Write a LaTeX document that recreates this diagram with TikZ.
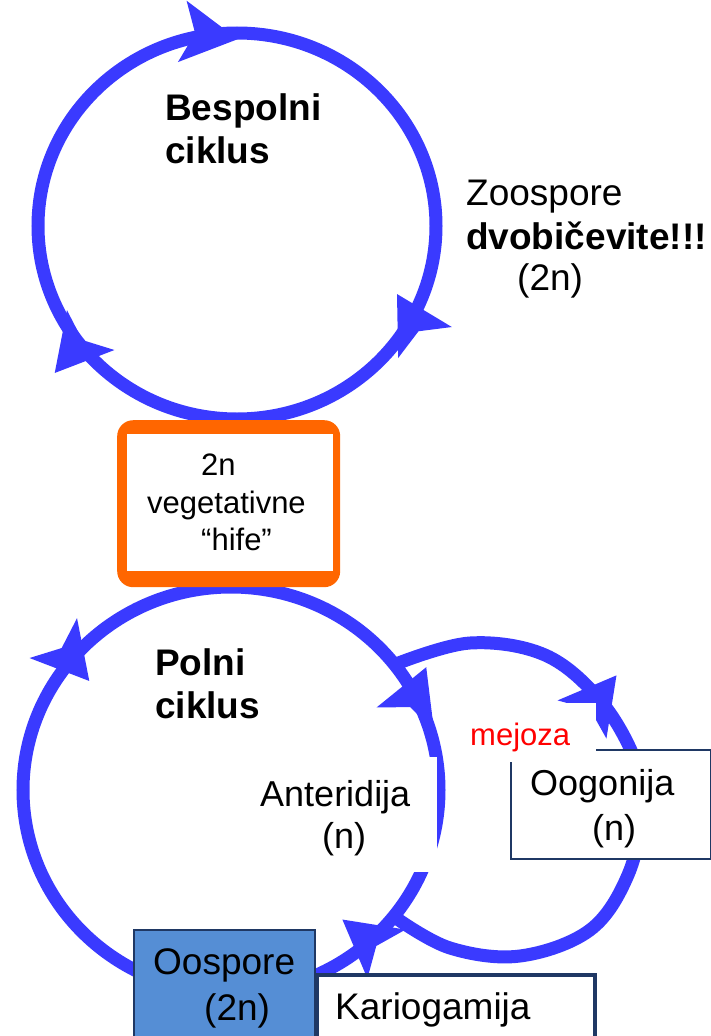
\documentclass[tikz,border=0pt]{standalone}
\usepackage{fontspec}
\setmainfont{Liberation Sans}
\definecolor{cyc}{RGB}{58,58,255}
\definecolor{org}{RGB}{255,102,0}
\definecolor{navy}{RGB}{31,56,100}
\definecolor{oosp}{RGB}{85,142,213}
\definecolor{mred}{RGB}{255,0,0}
\newcommand\arrhd[3]{\fill[cyc, shift={(#1,#2)}, rotate=#3] (30,0) -- (-26,31) -- (-13,0) -- (-26,-31) -- cycle;}
\begin{document}
\begin{tikzpicture}[x=1pt,y=-1pt,
  ring/.style={draw=cyc, line width=13pt},
  lbl/.style={inner sep=0pt, anchor=base west, font=\fontsize{37}{40}\selectfont},
  blbl/.style={inner sep=0pt, anchor=base west, font=\fontsize{37}{40}\selectfont\bfseries},
  slbl/.style={inner sep=0pt, anchor=base west, font=\fontsize{31}{34}\selectfont},
  mlbl/.style={inner sep=0pt, anchor=base west, font=\fontsize{36}{40}\selectfont},
  boxw/.style={inner sep=0pt, anchor=north west, fill=white},
]
\useasboundingbox (0,0) rectangle (711,1036);
% rings
\draw[ring] (237,226) ellipse [x radius=199, y radius=193];
\draw[ring] (231,790) ellipse [x radius=208, y radius=203];
\draw[ring] plot[smooth, tension=0.6] coordinates {(396,664) (470,643) (545,655) (600,700) (635,760) (642,810) (628,875) (590,930) (520,956) (450,948) (396,918)};
% arrowheads
\arrhd{208}{35}{-8}
\arrhd{412}{320}{120}
\arrhd{74}{350}{230}
\arrhd{70}{658}{-50}
\arrhd{415}{695}{68}
\arrhd{366}{938}{142}
\arrhd{598}{699}{52}
% orange box
\node[boxw, fill=org, rounded corners=16pt, minimum width=223pt, minimum height=167pt] (hframe) at (117,420) {};
\node[boxw, minimum width=206pt, minimum height=137pt] (hbox) at (127,434) {};
% white covers
\node[boxw, minimum width=182pt, minimum height=115pt] (antbox) at (255,757) {};
\node[boxw, draw=navy, line width=2pt, minimum width=200pt, minimum height=109pt] (oogbox) at (510,749) {};
\node[boxw, minimum width=141pt, minimum height=59pt] (mejbox) at (455,703) {};
\node[boxw, fill=oosp, draw=navy, line width=2pt, minimum width=181pt, minimum height=120pt] (oosbox) at (133,929) {};
\node[boxw, draw=navy, line width=4pt, minimum width=278pt, minimum height=80pt] (karbox) at (315,973) {};
% texts
\node[blbl] (bes1) at (165,120) {Bespolni};
\node[blbl] (bes2) at (165,163) {ciklus};
\node[lbl] (zoo1) at (466,205) {Zoospore};
\node[blbl] (zoo2) at (466,249) {dvobičevite!!!};
\node[lbl] (zoo3) at (517,290) {(2n)};
\node[slbl] (h1) at (201,475) {2n};
\node[slbl] (h2) at (147,513) {vegetativne};
\node[slbl] (h3) at (201,550) {“hife”};
\node[blbl] (pol1) at (155,675) {Polni};
\node[blbl] (pol2) at (155,718) {ciklus};
\node[slbl, text=mred] (mej) at (470,745) {mejoza};
\node[mlbl] (ant1) at (260,806) {Anteridija};
\node[mlbl] (ant2) at (322,848) {(n)};
\node[mlbl] (oog1) at (530,795) {Oogonija};
\node[mlbl] (oog2) at (592,840) {(n)};
\node[lbl] (oos1) at (153,974) {Oospore};
\node[lbl] (oos2) at (204,1020) {(2n)};
\node[lbl] (kar) at (335,1019) {Kariogamija};
\end{tikzpicture}
\end{document}
